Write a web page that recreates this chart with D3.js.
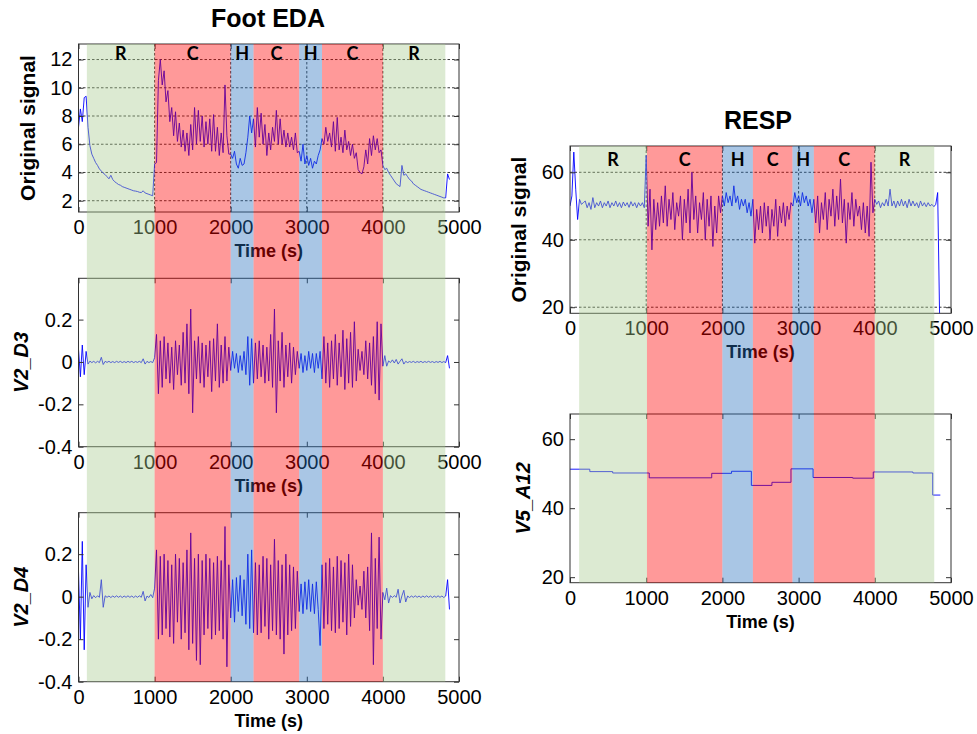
<!DOCTYPE html>
<html><head><meta charset="utf-8">
<script src="https://cdn.jsdelivr.net/npm/d3@7"></script>
<style>body{margin:0;background:#fff}</style>
</head><body>
<script>
// ---------------- DATA ----------------
const sampleStep = 25; // seconds between samples of the signals below
const edaOriginal = [
 7.2, 8.5, 7.6, 9.3, 9.4, 7.2, 5.9, 5.3,
 5.0, 4.7, 4.5, 4.25, 4.1, 3.95, 3.85, 3.7,
 3.55, 3.8, 3.5, 3.35, 3.25, 3.15, 3.1, 3.0,
 2.95, 2.9, 2.85, 2.8, 2.75, 2.7, 2.68, 2.65,
 2.6, 2.58, 2.7, 2.55, 2.5, 2.45, 2.4, 2.35,
 4.6, 4.7, 10.5, 12.0, 10.2, 11.2, 9.0, 9.8,
 7.6, 8.6, 6.6, 8.3, 6.2, 7.5, 5.8, 7.0,
 5.5, 6.8, 5.2, 7.4, 5.6, 8.6, 6.0, 8.4,
 6.2, 8.0, 5.8, 7.6, 6.0, 7.8, 5.5, 8.1,
 5.5, 7.2, 5.2, 6.8, 5.4, 10.2, 6.6, 5.3,
 5.3, 5.0, 5.5, 4.6, 4.3, 5.0, 4.5, 4.6,
 5.4, 6.5, 8.0, 6.8,
 7.8, 5.8, 8.6, 6.5, 8.2, 6.0, 7.4, 5.2,
 6.8, 5.6, 7.2, 6.2, 8.4, 6.0, 7.8, 6.0,
 7.0, 5.8, 6.8, 5.8, 6.5, 5.6, 6.8, 5.4,
 5.5, 4.8, 6.0, 4.6, 5.2, 4.5, 5.0, 4.3,
 4.8, 4.6, 5.2, 5.6, 6.4, 6.0, 7.2, 6.2,
 6.8, 5.8, 7.6, 5.5, 7.9, 5.6, 6.5, 5.4,
 7.0, 5.6, 6.2, 5.2, 6.0, 5.0, 5.4, 4.2,
 4.0, 3.9, 4.4, 5.6, 4.6, 6.4, 5.2, 6.6,
 5.6, 6.4, 5.4, 5.6, 4.5, 4.2, 4.3, 4.0,
 3.8, 3.6, 3.4, 3.2, 3.1, 3.0, 4.5, 3.8,
 3.9, 3.7, 3.5, 3.4, 3.2, 3.1, 3.0, 2.9,
 2.8, 2.75, 2.7, 2.65, 2.6, 2.55, 2.5, 2.45,
 2.4, 2.35, 2.3, 2.25, 2.2, 2.2, 3.9, 3.5
];
const edaV2D3 = [
 0.06, -0.07, 0.08, -0.06, 0.05, -0.01, 0.004, -0.003,
 0.003, -0.004, 0.003, -0.003, 0.022, -0.012, 0.003, -0.002,
 0.003, -0.003, 0.002, -0.003, 0.003, -0.002, 0.003, -0.003,
 0.002, -0.003, 0.003, -0.002, 0.003, -0.003, 0.002, -0.002,
 0.003, -0.003, 0.015, -0.01, 0.003, -0.003, 0.002, -0.003,
 0.02, 0.13, -0.15, 0.1, -0.12, 0.12, -0.08, 0.09,
 -0.1, 0.07, -0.13, 0.1, -0.06, 0.08, -0.11, 0.14,
 -0.1, 0.18, -0.15, 0.25, -0.24, 0.1, -0.08, 0.12,
 -0.1, 0.09, -0.12, 0.08, -0.07, 0.1, -0.14, 0.11,
 -0.09, 0.18, -0.12, 0.08, -0.1, 0.12, -0.09, 0.07,
 -0.04, 0.05, -0.03, 0.04, -0.05, 0.03, -0.04, 0.05,
 -0.06, 0.12, -0.11, 0.11, -0.1, 0.09, -0.08, 0.1,
 -0.07, 0.08, -0.1, 0.07, -0.09, 0.13, -0.12, 0.25,
 -0.24, 0.1, -0.09, 0.14, -0.12, 0.08, -0.07, 0.09,
 -0.1, 0.07, -0.06, 0.05, -0.03, 0.04, -0.05, 0.03,
 -0.04, 0.05, -0.03, 0.04, -0.05, 0.04, -0.03, 0.05,
 -0.08, 0.12, -0.1, 0.09, -0.12, 0.1, -0.08, 0.13,
 -0.11, 0.09, -0.07, 0.15, -0.13, 0.11, -0.1, 0.14,
 -0.12, 0.19, -0.09, 0.06, -0.04, 0.05, -0.06, 0.1,
 -0.08, 0.09, -0.11, 0.12, -0.15, 0.19, -0.18, 0.18,
 -0.02, 0.03, -0.02, 0.005, -0.003, 0.01, -0.005, 0.012,
 -0.01, 0.003, 0.015, -0.01, 0.003, -0.003, 0.002, -0.002,
 0.003, -0.003, 0.002, -0.002, 0.003, -0.003, 0.002, -0.002,
 0.003, -0.002, 0.002, -0.003, 0.002, -0.002, 0.003, -0.003,
 0.002, -0.003, 0.03, -0.03
];
const edaV2D4 = [
 0.12, -0.2, 0.26, -0.25, 0.15, -0.05, 0.02, -0.01,
 0.005, -0.005, 0.004, -0.003, 0.08, -0.05, 0.004, -0.003,
 0.003, -0.004, 0.003, -0.003, 0.004, -0.003, 0.003, -0.004,
 0.003, -0.003, 0.004, -0.003, 0.003, -0.004, 0.003, -0.003,
 0.004, -0.003, 0.025, -0.02, 0.003, -0.004, 0.01, -0.005,
 0.04, 0.22, -0.2, 0.19, -0.18, 0.2, -0.15, 0.17,
 -0.19, 0.15, -0.22, 0.2, -0.12, 0.18, -0.2, 0.16,
 -0.17, 0.22, -0.25, 0.3, -0.22, 0.18, -0.3, 0.2,
 -0.32, 0.17, -0.18, 0.2, -0.15, 0.18, -0.2, 0.16,
 -0.18, 0.19, -0.16, 0.17, -0.2, 0.33, -0.33, 0.15,
 -0.1, 0.08, -0.12, 0.09, -0.07, 0.1, -0.09, 0.08,
 -0.13, 0.2, -0.15, 0.22, -0.17, 0.16, -0.18, 0.15,
 -0.17, 0.19, -0.14, 0.18, -0.2, 0.15, -0.16, 0.27,
 -0.18, 0.17, -0.2, 0.15, -0.27, 0.2, -0.18, 0.15,
 -0.16, 0.14, -0.15, 0.12, -0.07, 0.06, -0.08, 0.07,
 -0.06, 0.08, -0.07, 0.06, -0.08, 0.07, -0.06, -0.23,
 0.15, -0.15, 0.16, -0.13, 0.18, -0.16, 0.14, -0.17,
 0.19, -0.15, 0.17, -0.12, 0.16, -0.18, 0.2, -0.14,
 0.15, -0.1, 0.08, -0.04, 0.05, -0.06, 0.12, -0.1,
 0.14, -0.16, 0.3, -0.32, 0.18, -0.15, 0.28, -0.2,
 0.02, -0.015, 0.04, -0.03, 0.005, -0.004, 0.005, -0.003,
 0.035, -0.03, 0.004, 0.03, -0.025, 0.003, -0.004, 0.003,
 -0.003, 0.004, -0.003, 0.003, -0.004, 0.003, -0.003, 0.004,
 -0.003, 0.003, -0.004, 0.003, -0.003, 0.004, -0.003, 0.003,
 -0.004, 0.003, 0.08, -0.06
];
const respOriginal = [
 50, 53, 66, 55, 46, 52, 50.5, 51,
 51.5, 49.5, 51, 49, 52.5, 49.5, 51, 50,
 51.5, 49.5, 51, 50, 51.5, 49.5, 51, 50,
 51.5, 49.8, 51, 49.5, 51.2, 50, 51, 49.6,
 51.3, 50, 51, 49.5, 51, 50, 51, 49.5,
 65, 44, 55, 37, 52, 43, 51, 44,
 53, 45, 56, 44, 52, 46, 54, 43,
 51, 47, 53, 40, 52, 45, 55, 42,
 60, 46, 53, 42, 51, 46, 54, 40,
 52, 44, 53, 38, 50, 42, 53, 48,
 53, 50, 54, 51, 53, 50, 56, 51,
 53, 49, 52, 50, 52, 48, 51, 47,
 52, 39, 49, 43, 50, 42, 51, 44,
 50, 40, 49, 44, 52, 41, 50, 45,
 51, 44, 50, 46, 51, 50, 54, 51,
 53, 50, 54, 51, 53, 50, 52, 48,
 52, 45, 53, 42, 51, 46, 54, 43,
 52, 47, 55, 44, 53, 46, 58, 45,
 52, 39, 51, 46, 54, 44, 52, 47,
 50, 43, 51, 42, 50, 41, 63, 48,
 52, 50.5, 51.5, 49.5, 51, 50, 52, 50,
 55, 50, 51.5, 49.5, 51.5, 50, 52, 50,
 51.5, 49.5, 52, 50, 51.5, 50, 51, 49.5,
 51.5, 50, 51, 49.8, 51, 50, 50.5, 49.8,
 50.5, 54, 18
];
const respStepTimes = [0, 260, 560, 1040, 1860, 2120, 2380, 2650, 2900, 3190, 3710, 3980, 4500, 4760, 4860];
const respV5A12 = [51.3, 50.6, 50.2, 48.8, 50.1, 50.7, 46.6, 47.5, 51.4, 48.9, 48.7, 50.5, 50.2, 43.8, 43.8];

const xTicks = [0, 1000, 2000, 3000, 4000, 5000];
const gridX = [1000, 2000, 3000, 4000];
const edaTicks = [2, 4, 6, 8, 10, 12];
const waveTicks = [-0.4, -0.2, 0, 0.2];
const respTicks = [20, 40, 60];

const phaseNames = ["R", "C", "H", "C", "H", "C", "R"];
const edaPhaseBounds = [110, 1000, 2000, 2300, 2900, 3200, 4000, 4820];
const respPhaseBounds = [120, 1010, 2000, 2400, 2920, 3200, 4000, 4780];
const phaseColors = {R: "#a7ca8e", C: "#ff0000", H: "#2870be"};

// ---------------- DRAWING ----------------
const W = 977, H = 734;
const svg = d3.select("body").append("svg").attr("width", W).attr("height", H);
const FONT = "'Liberation Sans', Arial, sans-serif";

const colL = {x0: 78.5, x1: 459};
const colR = {x0: 570, x1: 951};

const panels = [
  {col: colL, y0: 44, y1: 212, domain: [1.2, 13.1], ticks: edaTicks, grid: true, values: edaOriginal,
   label: "Original signal", italic: false, labelX: 35},
  {col: colL, y0: 278.3, y1: 446.7, domain: [-0.4, 0.395], ticks: waveTicks, grid: false, values: edaV2D3,
   label: "V2_D3", italic: true, labelX: 27.5},
  {col: colL, y0: 512.7, y1: 681.7, domain: [-0.4, 0.395], ticks: waveTicks, grid: false, values: edaV2D4,
   label: "V2_D4", italic: true, labelX: 27.5},
  {col: colR, y0: 146, y1: 313.3, domain: [18.2, 67.8], ticks: respTicks, grid: true, values: respOriginal,
   label: "Original signal", italic: false, labelX: 526},
  {col: colR, y0: 414, y1: 582.7, domain: [18.4, 67.3], ticks: respTicks, grid: false, stepTimes: respStepTimes,
   values: respV5A12, label: "V5_A12", italic: true, labelX: 529.5}
];

const fmt = d => String(d);

panels.forEach((p, idx) => {
  const x = d3.scaleLinear().domain([0, 5000]).range([p.col.x0, p.col.x1]);
  const y = d3.scaleLinear().domain(p.domain).range([p.y1, p.y0]);
  const g = svg.append("g");

  // grid
  if (p.grid) {
    g.selectAll(".gy").data(p.ticks).join("line")
      .attr("x1", p.col.x0).attr("x2", p.col.x1)
      .attr("y1", d => y(d)).attr("y2", d => y(d))
      .attr("stroke", "#222").attr("stroke-width", 0.9).attr("stroke-dasharray", "2.5,2");
    g.selectAll(".gx").data(gridX).join("line")
      .attr("x1", d => x(d)).attr("x2", d => x(d))
      .attr("y1", p.y0).attr("y2", p.y1)
      .attr("stroke", "#222").attr("stroke-width", 0.9).attr("stroke-dasharray", "2.5,2");
  }

  // signal
  const clipId = "clip" + idx;
  svg.append("clipPath").attr("id", clipId).append("rect")
    .attr("x", p.col.x0).attr("y", p.y0).attr("width", p.col.x1 - p.col.x0).attr("height", p.y1 - p.y0);
  let line;
  if (p.stepTimes) {
    line = d3.line().x((d, i) => x(p.stepTimes[i])).y(d => y(d)).curve(d3.curveStepAfter);
  } else {
    line = d3.line().x((d, i) => x(i * sampleStep)).y(d => y(d));
  }
  g.append("path").datum(p.values).attr("d", line)
    .attr("fill", "none").attr("stroke", "#0000ff").attr("stroke-width", 0.9)
    .attr("stroke-linejoin", "round").attr("clip-path", `url(#${clipId})`);

  // axes (ticks inward on all sides)
  const styleAxis = sel => {
    sel.select(".domain").remove();
    sel.selectAll(".tick line").attr("stroke", "#333");
    sel.selectAll(".tick text").attr("fill", "#000").attr("font-size", 20).attr("font-family", FONT);
  };
  g.append("g").attr("transform", `translate(0,${p.y1})`)
    .call(d3.axisBottom(x).tickValues(xTicks).tickSize(-5).tickPadding(8).tickFormat(fmt)).call(styleAxis);
  g.append("g").attr("transform", `translate(0,${p.y0})`)
    .call(d3.axisTop(x).tickValues(xTicks).tickSize(-5).tickFormat("")).call(styleAxis);
  g.append("g").attr("transform", `translate(${p.col.x0},0)`)
    .call(d3.axisLeft(y).tickValues(p.ticks).tickSize(-5).tickPadding(6).tickFormat(fmt)).call(styleAxis);
  g.append("g").attr("transform", `translate(${p.col.x1},0)`)
    .call(d3.axisRight(y).tickValues(p.ticks).tickSize(-5).tickFormat("")).call(styleAxis);

  // box
  g.append("rect").attr("x", p.col.x0).attr("y", p.y0)
    .attr("width", p.col.x1 - p.col.x0).attr("height", p.y1 - p.y0)
    .attr("fill", "none").attr("stroke", "#333").attr("stroke-width", 1);

  // x label
  g.append("text").attr("x", (p.col.x0 + p.col.x1) / 2).attr("y", p.y1 + 45)
    .attr("text-anchor", "middle").attr("font-family", FONT).attr("font-weight", "bold")
    .attr("font-size", 18).text("Time (s)");

  // y label
  g.append("text").attr("transform", `translate(${p.labelX},${(p.y0 + p.y1) / 2}) rotate(-90)`)
    .attr("text-anchor", "middle").attr("font-family", FONT).attr("font-weight", "bold")
    .attr("font-style", p.italic ? "italic" : "normal")
    .attr("font-size", p.italic ? 20 : 21).text(p.label);
});

// phase overlays (semi-transparent, on top of everything)
function drawPhases(col, bounds, yTop, yBottom, labelY) {
  const x = d3.scaleLinear().domain([0, 5000]).range([col.x0, col.x1]);
  const phases = phaseNames.map((n, i) => ({name: n, start: bounds[i], end: bounds[i + 1]}));
  svg.append("g").selectAll("rect").data(phases).join("rect")
    .attr("x", d => x(d.start)).attr("width", d => x(d.end) - x(d.start))
    .attr("y", yTop).attr("height", yBottom - yTop)
    .attr("fill", d => phaseColors[d.name]).attr("fill-opacity", 0.4);
  svg.append("g").selectAll("text").data(phases).join("text")
    .attr("x", d => (x(d.start) + x(d.end)) / 2).attr("y", labelY)
    .attr("text-anchor", "middle").attr("font-family", "Lato, 'Open Sans', sans-serif")
    .attr("font-weight", "bold").attr("font-size", 18).attr("fill", "#000")
    .text(d => d.name);
}
drawPhases(colL, edaPhaseBounds, 44, 681.7, 60);
drawPhases(colR, respPhaseBounds, 146, 582.7, 166);

// titles
svg.append("text").attr("x", 268).attr("y", 27).attr("text-anchor", "middle")
  .attr("font-family", FONT).attr("font-weight", "bold").attr("font-size", 25).text("Foot EDA");
svg.append("text").attr("x", 758).attr("y", 129).attr("text-anchor", "middle")
  .attr("font-family", FONT).attr("font-weight", "bold").attr("font-size", 25).text("RESP");
</script>
</body></html>
